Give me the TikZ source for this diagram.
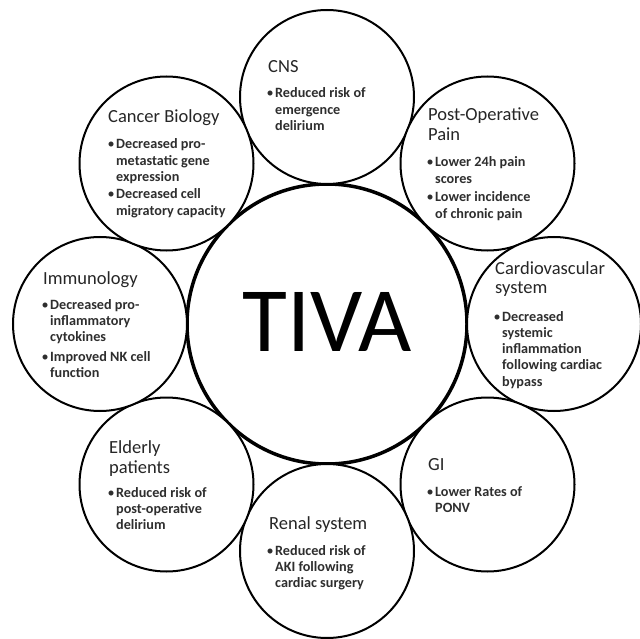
\documentclass[tikz,border=0pt]{standalone}
\usepackage{fontspec}
\setmainfont{Carlito}
\newcommand\lines[1]{\begin{tabular}[t]{@{}l@{}}#1\end{tabular}}
\newcommand\bul{\llap{{\mdseries\textbullet}\kern1.4pt}}
\begin{document}
\begin{tikzpicture}[x=1pt,y=-1pt,
  smallc/.style={circle, draw=black, fill=white, line width=2pt, minimum size=174pt, inner sep=0pt},
  bigc/.style={circle, draw=black, fill=white, line width=3.5pt, minimum size=280pt, inner sep=0pt},
  ttl/.style={anchor=base west, inner sep=0pt, text=black!85, font=\fontsize{18.5}{20}\selectfont},
  itm/.style={anchor=base west, inner sep=0pt, text=black!82, font=\fontsize{14.2}{16.3}\selectfont\bfseries},
]
\useasboundingbox (0,0) rectangle (640,639);

% circles
\node[bigc] (tiva) at (327,324) {};
\node[smallc] (cns)    at (327,97) {};
\node[smallc] (pain)   at (487.5,163.5) {};
\node[smallc] (cardio) at (554,324) {};
\node[smallc] (gi)     at (487.5,484.5) {};
\node[smallc] (renal)  at (327,551) {};
\node[smallc] (elder)  at (166.5,484.5) {};
\node[smallc] (immuno) at (100,324) {};
\node[smallc] (cancer) at (166.5,163.5) {};

% centre text
\node[inner sep=0pt, font=\fontsize{92}{92}\selectfont] (tivatext) at (327,321.5) {TIVA};

% CNS
\node[ttl] (cnsT) at (268,73) {CNS};
\node[itm] (cnsA) at (275,98) {\lines{\bul Reduced risk of\\emergence\\delirium}};

% Cancer Biology
\node[ttl] (cancerT) at (108,123) {Cancer Biology};
\node[itm] (cancerA) at (116,149) {\lines{\bul Decreased pro-\\metastatic gene\\expression}};
\node[itm] (cancerB) at (116,199) {\lines{\bul Decreased cell\\migratory capacity}};

% Post-Operative Pain
\node[ttl] (painT) at (428,121) {\lines{Post-Operative\\Pain}};
\node[itm] (painA) at (435,167) {\lines{\bul Lower 24h pain\\scores}};
\node[itm] (painB) at (435,202) {\lines{\bul Lower incidence\\of chronic pain}};

% Cardiovascular system
\node[ttl] (cardioT) at (495,274) {\lines{Cardiovascular\\system}};
\node[itm] (cardioA) at (502,321) {\lines{\bul Decreased\\systemic\\inflammation\\following cardiac\\bypass}};

% Immunology
\node[ttl] (immunoT) at (43,284) {Immunology};
\node[itm] (immunoA) at (50,309) {\lines{\bul Decreased pro-\\inflammatory\\cytokines}};
\node[itm] (immunoB) at (50,361) {\lines{\bul Improved NK cell\\function}};

% Elderly patients
\node[ttl] (elderT) at (109,453) {\lines{Elderly\\patients}};
\node[itm] (elderA) at (116,497) {\lines{\bul Reduced risk of\\post-operative\\delirium}};

% GI
\node[ttl] (giT) at (428,470) {GI};
\node[itm] (giA) at (435,496) {\lines{\bul Lower Rates of\\PONV}};

% Renal system
\node[ttl] (renalT) at (269,529) {Renal system};
\node[itm] (renalA) at (275,555) {\lines{\bul Reduced risk of\\AKI following\\cardiac surgery}};
\end{tikzpicture}
\end{document}
